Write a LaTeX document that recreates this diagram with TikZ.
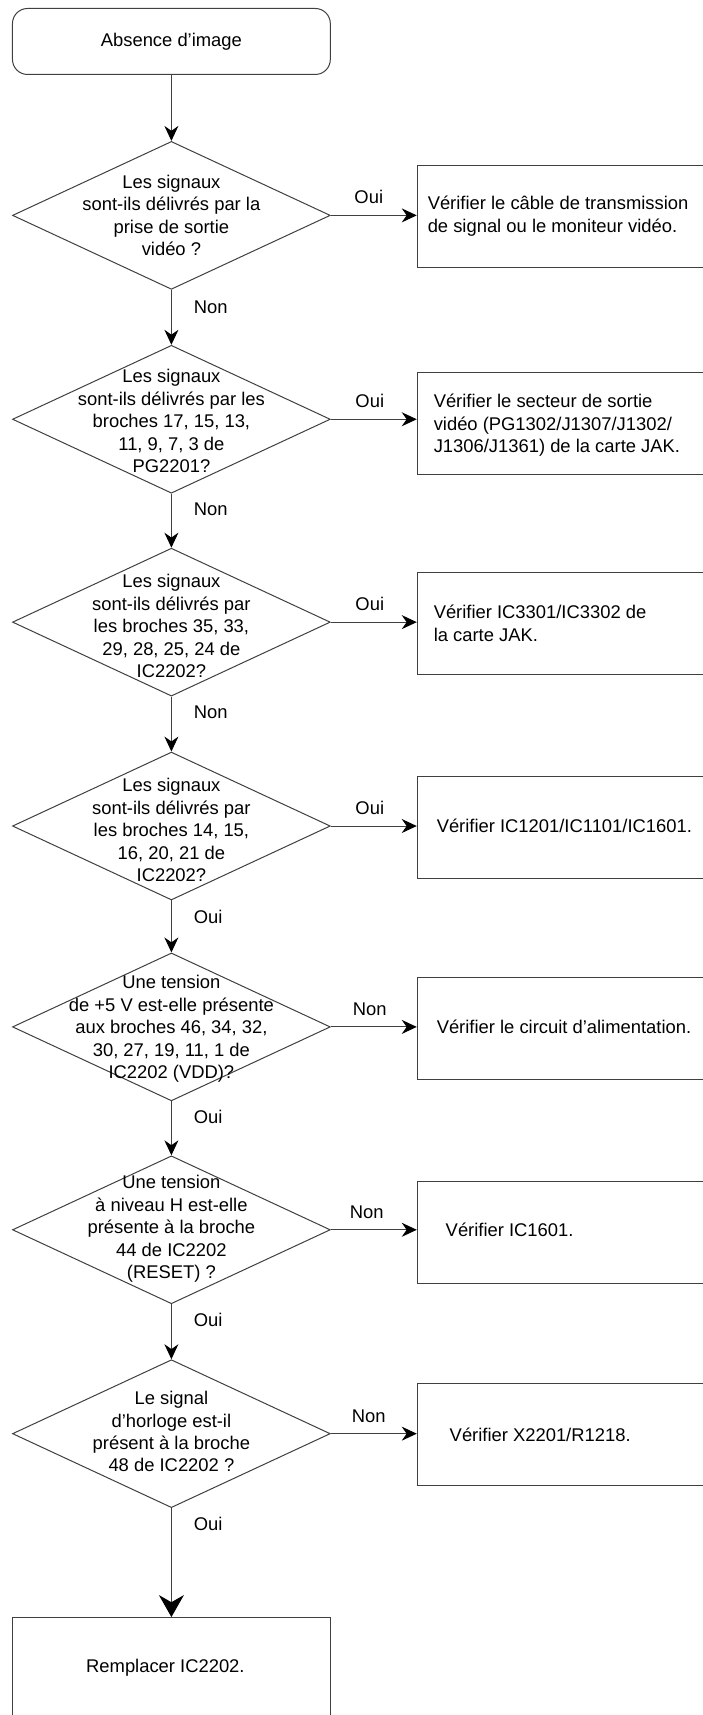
\documentclass[tikz,border=0pt]{standalone}
\usepackage{fontspec}
\setmainfont{Liberation Sans}
\usetikzlibrary{shapes.geometric,arrows.meta}
\begin{document}
\begin{tikzpicture}[x=1pt, y=1pt, line width=1pt,
  font=\fontsize{18.4}{22.5}\selectfont,
  every path/.style={draw=black!75},
  startbox/.style={draw=black!75, rounded corners=15pt, minimum width=318, minimum height=66, inner sep=0},
  dmd/.style={draw=black!75, shape=diamond, minimum width=318, minimum height=148, inner sep=0},
  dtxt/.style={align=center, inner sep=0},
  chk/.style={draw=black!75, rectangle, minimum width=290, minimum height=102, inner sep=0},
  finbox/.style={draw=black!75, rectangle, minimum width=318, minimum height=140, inner sep=0},
  ctxt/.style={align=left, anchor=west, inner sep=0},
  lbl/.style={inner sep=0},
  arr/.style={-{Stealth[length=15, width=14, color=black]}},
  bigarr/.style={-{Stealth[length=22, width=25, color=black]}}]
\useasboundingbox (0,0) rectangle (702,-1715);
\fill[white] (0,0) rectangle (702,-1715);
\node[startbox] (start) at (171,-41) {Absence d’image};
\node[dmd] (d1) at (171,-215) {};
\node[dtxt] at (d1) {Les signaux\\sont-ils délivrés par la\\prise de sortie\\vidéo ?};
\node[dmd] (d2) at (171,-419) {};
\node[dtxt] at (171,-421) {Les signaux\\sont-ils délivrés par les\\broches 17, 15, 13,\\11, 9, 7, 3 de\\PG2201?};
\node[dmd] (d3) at (171,-622) {};
\node[dtxt] at (171,-626) {Les signaux\\sont-ils délivrés par\\les broches 35, 33,\\29, 28, 25, 24 de\\IC2202?};
\node[dmd] (d4) at (171,-826) {};
\node[dtxt] at (171,-830) {Les signaux\\sont-ils délivrés par\\les broches 14, 15,\\16, 20, 21 de\\IC2202?};
\node[dmd] (d5) at (171,-1027) {};
\node[dtxt] at (171,-1029) {Une tension\\de +5 V est-elle présente\\aux broches 46, 34, 32,\\30, 27, 19, 11, 1 de\\IC2202 (VDD)?};
\node[dmd] (d6) at (171,-1230) {};
\node[dtxt] at (171,-1229) {Une tension\\à niveau H est-elle\\présente à la broche\\44 de IC2202\\(RESET) ?};
\node[dmd] (d7) at (171,-1434) {};
\node[dtxt] at (171,-1432) {Le signal\\d’horloge est-il\\présent à la broche\\48 de IC2202 ?};
\node[finbox] (fin) at (171,-1688) {};
\node[dtxt] at (165,-1668) {Remplacer IC2202.};
\node[chk] (b1) at (562,-216) {};
\node[ctxt] at (427,-216) {Vérifier le câble de transmission\\de signal ou le moniteur vidéo.};
\node[chk] (b2) at (562,-423) {};
\node[ctxt] at (433,-425) {Vérifier le secteur de sortie\\vidéo (PG1302/J1307/J1302/\\J1306/J1361) de la carte JAK.};
\node[chk] (b3) at (562,-623) {};
\node[ctxt] at (433,-623) {Vérifier IC3301/IC3302 de\\la carte JAK.};
\node[chk] (b4) at (562,-827) {};
\node[ctxt] at (436,-826) {Vérifier IC1201/IC1101/IC1601.};
\node[chk] (b5) at (562,-1029) {};
\node[ctxt] at (436,-1027) {Vérifier le circuit d’alimentation.};
\node[chk] (b6) at (562,-1233) {};
\node[ctxt] at (445,-1230) {Vérifier IC1601.};
\node[chk] (b7) at (562,-1435) {};
\node[ctxt] at (449,-1435) {Vérifier X2201/R1218.};
\draw[arr] (start) -- (d1);
\draw[arr] (d1) -- (d2);
\draw[arr] (d2) -- (d3);
\draw[arr] (d3) -- (d4);
\draw[arr] (d4) -- (d5);
\draw[arr] (d5) -- (d6);
\draw[arr] (d6) -- (d7);
\draw[bigarr] (d7) -- (fin);
\node[lbl, anchor=west] (n1) at ([xshift=22, yshift=-17]d1.south) {Non};
\node[lbl, anchor=west] (n2) at ([xshift=22, yshift=-16]d2.south) {Non};
\node[lbl, anchor=west] (n3) at ([xshift=22, yshift=-16]d3.south) {Non};
\node[lbl, anchor=west] (o4) at ([xshift=22, yshift=-16]d4.south) {Oui};
\node[lbl, anchor=west] (o5) at ([xshift=22, yshift=-16]d5.south) {Oui};
\node[lbl, anchor=west] (o6) at ([xshift=22, yshift=-16]d6.south) {Oui};
\node[lbl, anchor=west] (o7) at ([xshift=22, yshift=-16]d7.south) {Oui};
\draw[arr] (d1.east) -- node[lbl, above=11, xshift=-5] {Oui} (d1.east -| b1.west);
\draw[arr] (d2.east) -- node[lbl, above=11, xshift=-4] {Oui} (d2.east -| b2.west);
\draw[arr] (d3.east) -- node[lbl, above=11, xshift=-4] {Oui} (d3.east -| b3.west);
\draw[arr] (d4.east) -- node[lbl, above=11, xshift=-4] {Oui} (d4.east -| b4.west);
\draw[arr] (d5.east) -- node[lbl, above=11, xshift=-4] {Non} (d5.east -| b5.west);
\draw[arr] (d6.east) -- node[lbl, above=11, xshift=-7] {Non} (d6.east -| b6.west);
\draw[arr] (d7.east) -- node[lbl, above=11, xshift=-5] {Non} (d7.east -| b7.west);
\end{tikzpicture}
\end{document}
